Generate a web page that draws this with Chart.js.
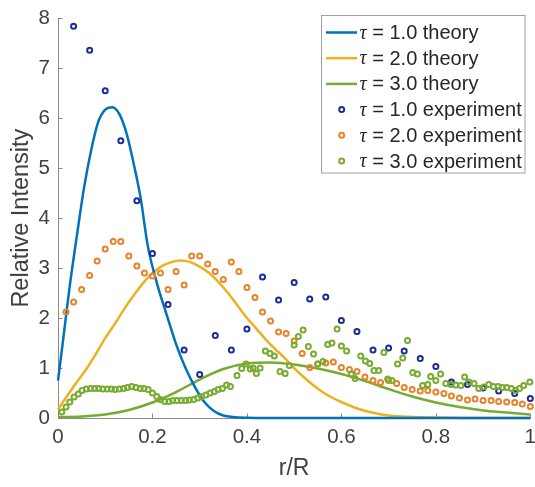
<!DOCTYPE html>
<html>
<head>
<meta charset="utf-8">
<script src="https://cdn.jsdelivr.net/npm/chart.js@4.4.1/dist/chart.umd.min.js"></script>
<style>
  html, body { margin: 0; padding: 0; background: #fff; overflow: hidden; width: 535px; height: 487px; }
  #wrap { position: absolute; left: 0; top: 0; width: 545px; height: 487px; }
</style>
</head>
<body>
<div id="wrap"><canvas id="c" width="545" height="487"></canvas></div>
<script>
// ---------- data ----------
const xTicks = [0, 0.2, 0.4, 0.6, 0.8, 1];
const xTickLabels = ['0', '0.2', '0.4', '0.6', '0.8', '1'];
const yTicks = [0, 1, 2, 3, 4, 5, 6, 7, 8];
const yTickLabels = ['0', '1', '2', '3', '4', '5', '6', '7', '8'];

const seriesLabels = ['τ = 1.0 theory', 'τ = 2.0 theory', 'τ = 3.0 theory',
                      'τ = 1.0 experiment', 'τ = 2.0 experiment', 'τ = 3.0 experiment'];

const theory1X = [0, 0.01, 0.025, 0.04, 0.055, 0.07, 0.085, 0.1, 0.115, 0.13, 0.145, 0.16, 0.175, 0.19, 0.21, 0.23, 0.25, 0.27, 0.29, 0.31, 0.33, 0.35, 0.37, 0.4, 0.45, 0.5, 0.6, 0.7, 0.8, 0.9, 1.0];
const theory1Y = [0.75, 1.5, 2.65, 3.65, 4.6, 5.35, 5.92, 6.17, 6.22, 6.08, 5.7, 5.1, 4.4, 3.45, 2.68, 2.07, 1.48, 1.0, 0.62, 0.32, 0.14, 0.05, 0.02, 0.005, 0, 0, 0, 0, 0, 0, 0];

const theory2X = [0, 0.02, 0.04, 0.06, 0.08, 0.1, 0.12, 0.14, 0.16, 0.18, 0.2, 0.22, 0.24, 0.26, 0.28, 0.3, 0.32, 0.34, 0.36, 0.38, 0.4, 0.42, 0.44, 0.46, 0.48, 0.5, 0.52, 0.54, 0.56, 0.58, 0.6, 0.62, 0.64, 0.66, 0.7, 0.75, 0.8, 0.9, 1.0];
const theory2Y = [0.17, 0.45, 0.72, 0.98, 1.28, 1.6, 1.88, 2.18, 2.45, 2.7, 2.9, 3.04, 3.12, 3.15, 3.12, 3.03, 2.9, 2.72, 2.5, 2.25, 2.0, 1.79, 1.57, 1.38, 1.2, 1.0, 0.82, 0.66, 0.52, 0.41, 0.32, 0.24, 0.17, 0.12, 0.05, 0.02, 0.01, 0, 0];

const theory3X = [0, 0.05, 0.1, 0.15, 0.2, 0.25, 0.3, 0.35, 0.4, 0.45, 0.5, 0.55, 0.6, 0.65, 0.7, 0.75, 0.8, 0.85, 0.9, 0.95, 1.0];
const theory3Y = [0.02, 0.03, 0.07, 0.16, 0.31, 0.52, 0.77, 0.98, 1.09, 1.11, 1.07, 0.99, 0.88, 0.74, 0.58, 0.43, 0.31, 0.22, 0.15, 0.11, 0.07];

const exp1X = [0.033, 0.067, 0.1, 0.133, 0.167, 0.2, 0.233, 0.267, 0.3, 0.333, 0.367, 0.4, 0.433, 0.467, 0.5, 0.533, 0.567, 0.6, 0.633, 0.667, 0.7, 0.733, 0.767, 0.8, 0.833, 0.867, 0.9, 0.933, 0.967, 1.0];
const exp1Y = [7.84, 7.36, 6.55, 5.55, 4.35, 3.29, 2.27, 1.36, 0.87, 1.65, 1.36, 1.78, 2.82, 2.36, 2.71, 2.38, 2.42, 1.95, 1.73, 1.36, 1.40, 1.34, 1.19, 1.03, 0.72, 0.67, 0.60, 0.54, 0.49, 0.39];

const exp2X = [0.017, 0.033, 0.05, 0.067, 0.083, 0.1, 0.117, 0.133, 0.15, 0.167, 0.183, 0.2, 0.217, 0.233, 0.25, 0.267, 0.283, 0.3, 0.317, 0.333, 0.35, 0.367, 0.383, 0.4, 0.417, 0.433, 0.45, 0.467, 0.483, 0.5, 0.517, 0.533, 0.55, 0.567, 0.583, 0.6, 0.617, 0.633, 0.65, 0.667, 0.683, 0.7, 0.717, 0.733, 0.75, 0.767, 0.783, 0.8, 0.817, 0.833, 0.85, 0.867, 0.883, 0.9, 0.917, 0.933, 0.95, 0.967, 0.983, 1.0];
const exp2Y = [2.12, 2.32, 2.57, 2.85, 3.14, 3.38, 3.53, 3.53, 3.24, 3.04, 2.90, 2.84, 2.90, 2.57, 2.93, 2.66, 3.24, 3.24, 3.08, 2.93, 2.77, 3.12, 2.93, 2.61, 2.41, 2.12, 1.94, 1.72, 1.69, 1.54, 1.29, 1.01, 1.08, 1.10, 1.12, 1.01, 0.97, 0.93, 0.82, 0.75, 0.71, 0.75, 0.69, 0.61, 0.57, 0.54, 0.55, 0.52, 0.49, 0.44, 0.40, 0.36, 0.38, 0.35, 0.35, 0.33, 0.32, 0.31, 0.28, 0.23];

const exp3X = [0.008, 0.017, 0.025, 0.034, 0.043, 0.051, 0.06, 0.069, 0.078, 0.086, 0.095, 0.104, 0.113, 0.121, 0.13, 0.139, 0.147, 0.156, 0.165, 0.174, 0.182, 0.191, 0.2, 0.209, 0.217, 0.226, 0.235, 0.243, 0.252, 0.261, 0.27, 0.278, 0.287, 0.296, 0.304, 0.313, 0.322, 0.331, 0.339, 0.348, 0.357, 0.365,
  0.379, 0.389, 0.398, 0.407, 0.413, 0.420, 0.428, 0.439, 0.449, 0.458, 0.470, 0.481, 0.490, 0.500, 0.509, 0.519, 0.530, 0.541, 0.550, 0.561, 0.571, 0.580, 0.591, 0.600, 0.611, 0.621, 0.629, 0.641, 0.651, 0.660, 0.669, 0.679, 0.690, 0.698, 0.707, 0.719, 0.730, 0.740, 0.751, 0.761, 0.772, 0.783, 0.789, 0.800, 0.810, 0.821, 0.832, 0.842, 0.853, 0.861, 0.870, 0.881, 0.891, 0.902, 0.912, 0.922, 0.932, 0.941, 0.950, 0.960, 0.969, 0.977, 0.986, 0.999];
const exp3Y = [0.12, 0.22, 0.32, 0.42, 0.48, 0.55, 0.58, 0.59, 0.59, 0.59, 0.58, 0.58, 0.58, 0.57, 0.58, 0.59, 0.61, 0.63, 0.61, 0.59, 0.59, 0.57, 0.50, 0.43, 0.37, 0.33, 0.33, 0.35, 0.35, 0.35, 0.35, 0.36, 0.37, 0.40, 0.43, 0.46, 0.50, 0.53, 0.57, 0.59, 0.66, 0.63,
  0.85, 0.99, 1.08, 0.98, 1.00, 0.89, 1.00, 1.34, 1.29, 1.24, 0.93, 0.89, 1.05, 1.46, 1.63, 1.76, 1.43, 1.28, 1.08, 1.13, 1.47, 1.50, 1.78, 1.44, 1.34, 0.88, 0.79, 1.24, 1.14, 1.09, 0.95, 0.95, 1.31, 0.78, 0.75, 1.08, 1.20, 1.55, 0.91, 0.88, 0.65, 0.67, 0.83, 0.75, 0.88, 0.69, 0.67, 0.66, 0.65, 0.82, 0.72, 0.69, 0.59, 0.62, 0.67, 0.63, 0.63, 0.61, 0.61, 0.59, 0.55, 0.59, 0.65, 0.72];

// ---------- styling ----------
const C_BLUE_LINE = '#0072BD', C_YELLOW_LINE = '#EDB120', C_GREEN_LINE = '#77AC30';
const C_BLUE_PT = '#1c2b98', C_ORANGE_PT = '#E5842A', C_GREEN_PT = '#77AC30';
const TEXT = '#404040';
const SANS = "'Liberation Sans', Arial, Helvetica, sans-serif";

function pts(xs, ys) { return xs.map((x, i) => ({ x: x, y: ys[i] })); }

function lineDs(label, xs, ys, color) {
  return { type: 'line', label, data: pts(xs, ys), borderColor: color, backgroundColor: color,
    borderWidth: 2.5, pointRadius: 0, cubicInterpolationMode: 'monotone', fill: false,
    clip: 8, order: 5, legendKind: 'line' };
}
function scatDs(label, xs, ys, color, order) {
  return { type: 'scatter', label, data: pts(xs, ys), borderColor: color,
    backgroundColor: 'rgba(0,0,0,0)', pointRadius: 2.5, pointBorderWidth: 2,
    pointHoverRadius: 2.5, clip: 8, order, legendKind: 'point' };
}

const datasets = [
  lineDs(seriesLabels[0], theory1X, theory1Y, C_BLUE_LINE),
  lineDs(seriesLabels[1], theory2X, theory2Y, C_YELLOW_LINE),
  lineDs(seriesLabels[2], theory3X, theory3Y, C_GREEN_LINE),
  scatDs(seriesLabels[3], exp1X, exp1Y, C_BLUE_PT, 3),
  scatDs(seriesLabels[4], exp2X, exp2Y, C_ORANGE_PT, 2),
  scatDs(seriesLabels[5], exp3X, exp3Y, C_GREEN_PT, 1)
];

// inward tick marks drawn from the library scales
const inwardTicks = {
  id: 'inwardTicks',
  beforeDatasetsDraw(chart) {
    const { ctx, chartArea: a, scales } = chart;
    ctx.save();
    ctx.strokeStyle = '#8a8a8a';
    ctx.lineWidth = 1;
    ctx.beginPath();
    xTicks.forEach(v => {
      const px = Math.round(scales.x.getPixelForValue(v)) + 0.5;
      ctx.moveTo(px, a.bottom); ctx.lineTo(px, a.bottom - 4.5);
    });
    yTicks.forEach(v => {
      const py = Math.round(scales.y.getPixelForValue(v)) + 0.5;
      ctx.moveTo(a.left, py); ctx.lineTo(a.left + 4.5, py);
    });
    ctx.stroke();
    ctx.restore();
  }
};

// MATLAB-style legend box inside the axes
const boxLegend = {
  id: 'boxLegend',
  afterDraw(chart) {
    const ctx = chart.ctx;
    const bx = 321.5, by = 15.5, bw = 203.5, bh = 157.5;
    const rowY0 = 32.5, rowStep = 25.7;
    const lineX0 = 326, lineX1 = 357, markX = 341.7, textX = 359.5;
    ctx.save();
    ctx.fillStyle = '#ffffff';
    ctx.fillRect(bx, by, bw, bh);
    ctx.strokeStyle = '#a0a0a0';
    ctx.lineWidth = 1;
    ctx.strokeRect(bx, by, bw, bh);
    chart.data.datasets.forEach((ds, i) => {
      const y = rowY0 + i * rowStep;
      if (ds.legendKind === 'line') {
        ctx.strokeStyle = ds.borderColor; ctx.lineWidth = 2.5;
        ctx.beginPath(); ctx.moveTo(lineX0, y); ctx.lineTo(lineX1, y); ctx.stroke();
      } else {
        ctx.strokeStyle = ds.borderColor; ctx.lineWidth = 2;
        ctx.beginPath(); ctx.arc(markX, y, 2.5, 0, Math.PI * 2); ctx.stroke();
      }
      const sym = ds.label.charAt(0);
      const rest = ds.label.slice(1);
      ctx.fillStyle = '#262626';
      ctx.textBaseline = 'middle';
      ctx.font = "italic 20px 'Liberation Serif', 'Times New Roman', serif";
      ctx.fillText(sym, textX, y + 1);
      const w = ctx.measureText(sym).width;
      ctx.font = '20px ' + SANS;
      ctx.fillText(rest, textX + w, y + 1);
    });
    ctx.restore();
  }
};

new Chart(document.getElementById('c'), {
  data: { datasets },
  options: {
    responsive: false,
    animation: false,
    events: [],
    layout: { padding: { top: 10, right: 11.7, left: 0, bottom: 0 } },
    plugins: { legend: { display: false }, tooltip: { enabled: false } },
    scales: {
      x: {
        type: 'linear', min: 0, max: 1,
        afterBuildTicks(s) { s.ticks = xTicks.map(v => ({ value: v })); },
        afterFit(s) { s.height = 69; },
        grid: { display: false, drawTicks: false },
        border: { display: true, color: '#8a8a8a', width: 1 },
        ticks: { color: TEXT, padding: 9, maxRotation: 0, autoSkip: false,
          font: { family: SANS, size: 20.5, lineHeight: 1 },
          callback: (v) => xTickLabels[xTicks.indexOf(v)] },
        title: { display: true, text: 'r/R', color: TEXT,
          font: { family: SANS, size: 23 }, padding: { top: 0, bottom: 5 } }
      },
      y: {
        type: 'linear', min: 0, max: 8,
        afterBuildTicks(s) { s.ticks = yTicks.map(v => ({ value: v })); },
        afterFit(s) { s.width = 58; },
        grid: { display: false, drawTicks: false },
        border: { display: true, color: '#8a8a8a', width: 1 },
        ticks: { color: TEXT, padding: 8, autoSkip: false,
          font: { family: SANS, size: 20.5, lineHeight: 1 },
          callback: (v) => yTickLabels[yTicks.indexOf(v)] },
        title: { display: true, text: 'Relative Intensity', color: TEXT,
          font: { family: SANS, size: 23.5 }, padding: { top: 7, bottom: 0 } }
      }
    }
  },
  plugins: [inwardTicks, boxLegend]
});
</script>
</body>
</html>
